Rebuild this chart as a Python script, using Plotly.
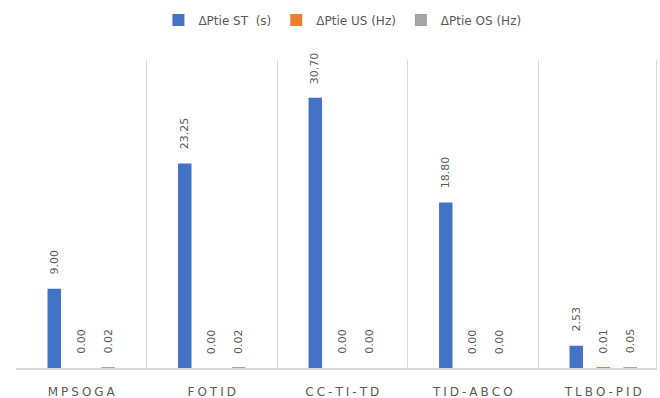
import plotly.graph_objects as go

# Controllers compared and the three performance measures
controllers = ["MPSOGA", "FOTID", "CC-TI-TD", "TID-ABCO", "TLBO-PID"]
series_names = ["ΔPtie ST  (s)", "ΔPtie US (Hz)", "ΔPtie OS (Hz)"]
st_values = [9.00, 23.25, 30.70, 18.80, 2.53]
us_values = [0.00, 0.00, 0.00, 0.00, 0.01]
os_values = [0.02, 0.02, 0.00, 0.00, 0.05]
series_values = [st_values, us_values, os_values]
series_colors = ["#4472C4", "#ED7D31", "#A5A5A5"]

# Layout constants
W, H = 660, 398
M_L, M_R, M_T, M_B = 16, 4, 60, 30
BAR_GAP = 0.38
GROUP_GAP = 0.5
X_RANGE = [-0.5, 4.404]
Y_RANGE = [0, 35]
TEXT_GREY = "#595959"
LINE_GREY = "#D9D9D9"
FONT = "DejaVu Sans"

# category labels drawn with widened letter spacing
spacer = "\u2005"
tick_text = [spacer.join(name) for name in controllers]

fig = go.Figure()
for name, vals, col in zip(series_names, series_values, series_colors):
    fig.add_trace(go.Bar(
        name=name, x=controllers, y=vals,
        marker=dict(color=col, line=dict(width=0)),
        hoverinfo="x+y",
    ))

# rotated value labels above each bar
plot_w = W - M_L - M_R
cat_px = plot_w / (X_RANGE[1] - X_RANGE[0])
slot_px = cat_px * (1 - BAR_GAP) / len(series_values)
n = len(series_values)
annotations = []
for i, vals in enumerate(series_values):
    xs = (i - (n - 1) / 2) * slot_px
    for cat, v in zip(controllers, vals):
        annotations.append(dict(
            x=cat, y=v, xref="x", yref="y",
            text=f"{v:.2f}", textangle=-90, showarrow=False,
            xanchor="center", yanchor="bottom",
            xshift=xs, yshift=12,
            font=dict(family=FONT, size=11, color=TEXT_GREY),
        ))

fig.update_layout(
    width=W, height=H, autosize=False,
    margin=dict(l=M_L, r=M_R, t=M_T, b=M_B, pad=0),
    paper_bgcolor="white", plot_bgcolor="white",
    barmode="group", bargap=BAR_GAP, bargroupgap=GROUP_GAP,
    showlegend=True,
    legend=dict(
        orientation="h", x=0.51, xanchor="center",
        y=1 + 40 / (H - M_T - M_B), yanchor="middle",
        font=dict(family=FONT, size=12, color=TEXT_GREY),
        bgcolor="rgba(0,0,0,0)", traceorder="normal",
        itemclick=False, itemdoubleclick=False,
    ),
    annotations=annotations,
    font=dict(family=FONT, color=TEXT_GREY),
)

fig.update_xaxes(
    type="category", range=X_RANGE,
    tickmode="array", tickvals=controllers, ticktext=tick_text,
    tickson="boundaries", ticks="",
    showgrid=True, gridcolor=LINE_GREY, gridwidth=1,
    showline=True, linecolor=LINE_GREY, linewidth=1.5,
    tickfont=dict(family=FONT, size=12, color=TEXT_GREY),
    ticklabelstandoff=12, automargin=False,
    zeroline=False, fixedrange=True,
)
fig.update_yaxes(
    range=Y_RANGE, side="right",
    showgrid=False, zeroline=False, showticklabels=False, ticks="",
    showline=True, linecolor=LINE_GREY, linewidth=1,
    automargin=False, fixedrange=True,
)

fig.write_html("out.html", config={"displayModeBar": False})
